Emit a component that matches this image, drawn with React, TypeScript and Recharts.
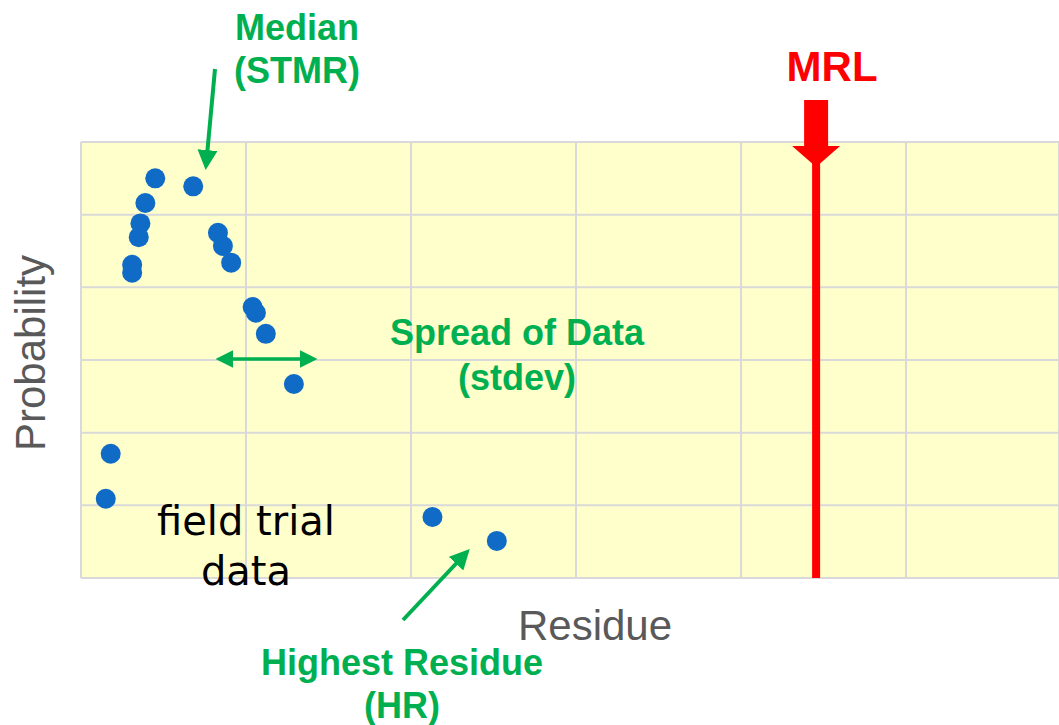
import { ScatterChart, Scatter, XAxis, YAxis, CartesianGrid, ReferenceLine } from "recharts";

// field trial residues (x) against plotted probability (y)
const residues = [0.45, 0.68, 0.39, 0.36, 0.35, 0.31, 0.31, 0.83, 0.86, 0.91, 1.04, 1.06, 1.12, 1.29, 0.18, 0.15, 2.13, 2.52];
const probabilities = [5.5, 5.39, 5.16, 4.88, 4.69, 4.31, 4.2, 4.75, 4.57, 4.34, 3.73, 3.65, 3.36, 2.67, 1.71, 1.09, 0.84, 0.51];
const xTicks = [0, 1, 2, 3, 4, 5];
const yTicks = [0, 1, 2, 3, 4, 5, 6];
const mrl = 4.455;

const points = residues.map((x, i) => ({ x, y: probabilities[i] }));

const GREEN = "#00b050";
const bold = { fontFamily: "'Liberation Sans', Arial, sans-serif", fontWeight: 700, fontSize: 36, fill: GREEN };

function Dot(props: any) {
    return <circle cx={props.cx} cy={props.cy} r={10} fill="#0f6bc6" />;
}

function MrlArrow(props: any) {
    const { x, y } = props.viewBox;
    return (
        <g>
            <rect x={x - 12} y={y - 42} width={24} height={46} fill="#ff0000" />
            <polygon points={`${x - 24},${y + 4} ${x + 24},${y + 4} ${x},${y + 25}`} fill="#ff0000" />
            <text x={x + 16} y={y - 61} textAnchor="middle" style={{ ...bold, fontSize: 42, fill: "#ff0000" }}>MRL</text>
        </g>
    );
}

export default function App() {
    return (
        <div style={{ position: "absolute", left: 0, top: 0, width: 1059, height: 725, overflow: "hidden" }}>
            <ScatterChart width={1059} height={725} margin={{ top: 142, right: 0, bottom: 147, left: 81 }}>
                <CartesianGrid fill="#ffffcc" stroke="#d9d9d9" strokeWidth={2} />
                <XAxis type="number" dataKey="x" domain={[0, 5.927]} ticks={xTicks} allowDataOverflow hide />
                <YAxis type="number" dataKey="y" domain={[0, 6]} ticks={yTicks} hide />
                <ReferenceLine x={mrl} stroke="#ff0000" strokeWidth={8} label={<MrlArrow />} ifOverflow="visible" />
                <Scatter data={points} shape={<Dot />} isAnimationActive={false} />
            </ScatterChart>
            <svg width={1059} height={725} style={{ position: "absolute", left: 0, top: 0, pointerEvents: "none" }}>
                <defs>
                    <marker id="head" markerWidth="5" markerHeight="5" refX="4" refY="2.5" orient="auto-start-reverse" markerUnits="strokeWidth">
                        <polygon points="0,0 5,2.5 0,5" fill={GREEN} />
                    </marker>
                </defs>
                <text x={297} y={40} textAnchor="middle" style={bold}>Median</text>
                <text x={297} y={83} textAnchor="middle" style={bold}>(STMR)</text>
                <line x1={215} y1={69} x2={206} y2={166} stroke={GREEN} strokeWidth={4} markerEnd="url(#head)" />

                <line x1={219} y1={359} x2={314} y2={359} stroke={GREEN} strokeWidth={3.5} markerStart="url(#head)" markerEnd="url(#head)" />
                <text x={517} y={345} textAnchor="middle" style={bold}>Spread of Data</text>
                <text x={517} y={390} textAnchor="middle" style={bold}>(stdev)</text>

                <text x={246} y={535} textAnchor="middle" style={{ fontFamily: "'DejaVu Sans', sans-serif", fontSize: 40, fill: "#000" }}>field trial</text>
                <text x={246} y={585} textAnchor="middle" style={{ fontFamily: "'DejaVu Sans', sans-serif", fontSize: 40, fill: "#000" }}>data</text>

                <line x1={403} y1={620} x2={467} y2={552} stroke={GREEN} strokeWidth={4} markerEnd="url(#head)" />
                <text x={402} y={675} textAnchor="middle" style={bold}>Highest Residue</text>
                <text x={402} y={718} textAnchor="middle" style={bold}>(HR)</text>

                <text x={595} y={640} textAnchor="middle" style={{ fontFamily: "'Liberation Sans', Arial, sans-serif", fontSize: 42, fill: "#595959" }}>Residue</text>
                <text x={45} y={353} textAnchor="middle" transform="rotate(-90 45 353)" style={{ fontFamily: "'Liberation Sans', Arial, sans-serif", fontSize: 42, fill: "#595959" }}>Probability</text>
            </svg>
        </div>
    );
}
